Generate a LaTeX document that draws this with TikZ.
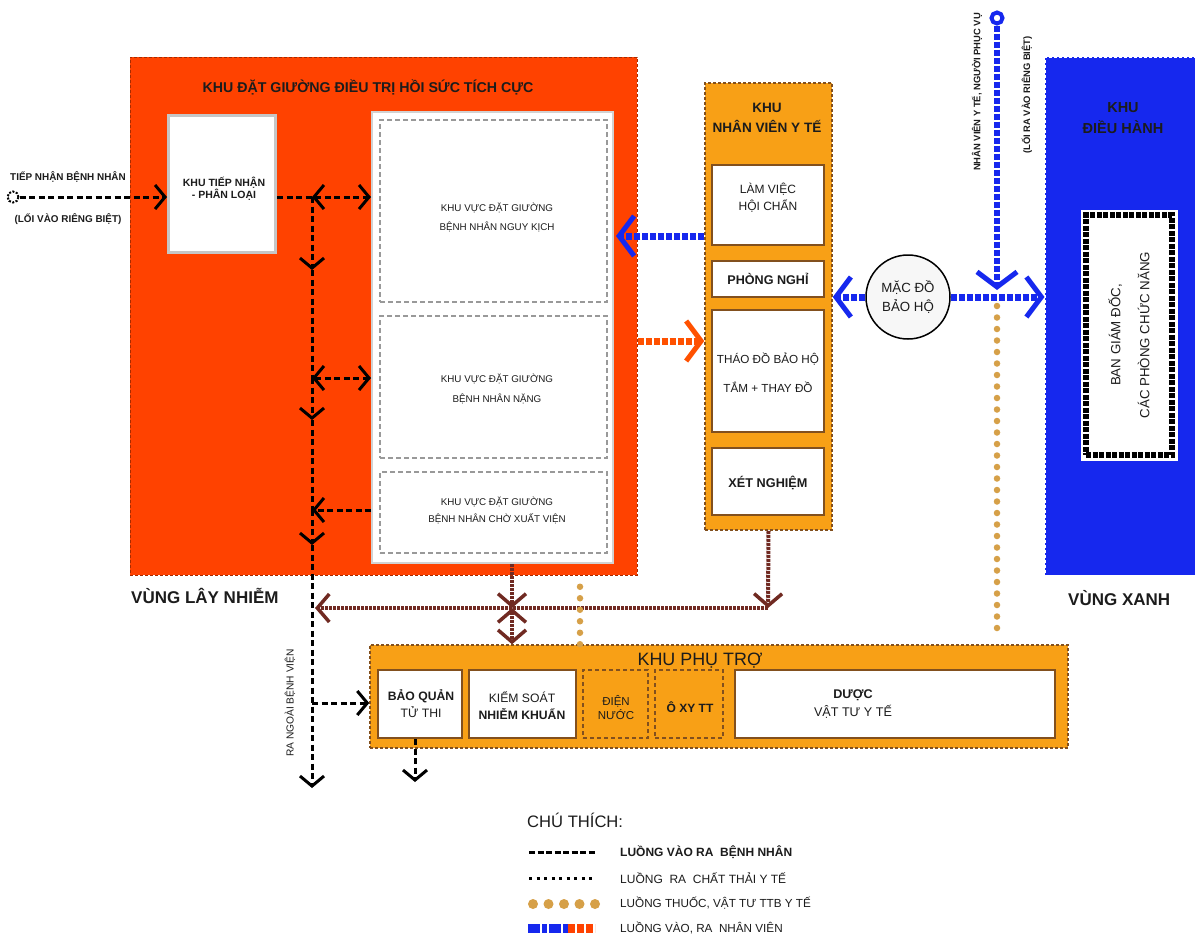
\documentclass[tikz,border=0pt]{standalone}
\usepackage{fontspec}
\setmainfont{Liberation Sans}
\newfontfamily\cond{Liberation Sans}
\usetikzlibrary{arrows.meta,calc}
\definecolor{redz}{RGB}{255,66,0}
\definecolor{orz}{RGB}{248,160,22}
\definecolor{bluez}{RGB}{22,40,238}
\definecolor{brownz}{RGB}{112,42,34}
\definecolor{goldz}{RGB}{214,160,72}
\definecolor{txt}{RGB}{28,28,28}
\definecolor{edge}{RGB}{130,80,30}
\newcommand\fz[2]{\fontsize{#1}{#2}\selectfont}
\tikzset{
  chevK/.tip={Straight Barb[length=10pt,width=24pt,line width=3pt]},
  chevB/.tip={Straight Barb[length=15pt,width=40pt,line width=5pt]},
  chevN/.tip={Straight Barb[length=12pt,width=28pt,line width=3.5pt]},
  chevG/.tip={Straight Barb[length=9pt,width=30pt,line width=5pt,color=black]},
  t/.style={font=\cond\fz{9.8}{12}, text=txt, align=center, inner sep=0pt},
  tb/.style={font=\cond\bfseries\fz{10.5}{12}, text=txt, align=center, inner sep=0pt},
  zone/.style={rectangle, inner sep=0pt, line width=1pt, dash pattern=on 3pt off 2pt},
  room/.style={rectangle, inner sep=0pt, fill=white, draw=edge, line width=2pt},
  subz/.style={rectangle, inner sep=0pt, draw=gray!80, line width=1.2pt, dash pattern=on 5pt off 3pt, fill=white},
  pat/.style={draw=black, line width=3pt, dash pattern=on 6pt off 3.5pt},
  patA/.style={pat, -chevK},
  patAA/.style={pat, chevK-chevK},
  brn/.style={draw=brownz, line width=4pt, dash pattern=on 3pt off 1pt},
  brnA/.style={brn, -chevN},
  brnAA/.style={brn, chevN-chevN},
  gld/.style={draw=goldz, line width=6.5pt, dash pattern=on 0pt off 11.5pt, line cap=round},
  stf/.style={line width=7pt, dash pattern=on 6pt off 2pt, -chevB},
}
\begin{document}
\begin{tikzpicture}[x=1pt,y=-1pt]
\useasboundingbox (0,0) rectangle (1195,938);
\fill[white] (0,0) rectangle (1195,938);

% ---------- red zone ----------
\node[zone, fill=redz, draw=redz!65!black, minimum width=507, minimum height=518] (red) at (383.5,316) {};
\node[font=\cond\bfseries\fz{14.2}{16}, text=txt, inner sep=0pt] (redt) at (368,87) {KHU ĐẶT GIƯỜNG ĐIỀU TRỊ HỒI SỨC TÍCH CỰC};
\node[rectangle, inner sep=0pt, fill=white, draw=gray!45, line width=3pt, minimum width=107, minimum height=137] (tn) at (222,184) {};
\node[tb] (tnt) at (224,189) {KHU TIẾP NHẬN\\- PHÂN LOẠI};
\node[rectangle, inner sep=0pt, fill=white, draw=gray!35, line width=2pt, minimum width=241, minimum height=451] (bigw) at (492.5,337.5) {};
\node[subz, minimum width=227, minimum height=182] (b1) at (493.5,211) {};
\node[subz, minimum width=227, minimum height=142] (b2) at (493.5,387) {};
\node[subz, minimum width=227, minimum height=81] (b3) at (493.5,512.5) {};
\node[t, font=\cond\fz{9.8}{19}] (b1t) at (497,217) {KHU VỰC ĐẶT GIƯỜNG\\BỆNH NHÂN NGUY KỊCH};
\node[t, font=\cond\fz{9.8}{20}] (b2t) at (497,389) {KHU VỰC ĐẶT GIƯỜNG\\BỆNH NHÂN NẶNG};
\node[t, font=\cond\fz{9.8}{17}] (b3t) at (497,510) {KHU VỰC ĐẶT GIƯỜNG\\BỆNH NHÂN CHỜ XUẤT VIỆN};
\node[font=\cond\bfseries\fz{17}{19}, text=txt, anchor=west, inner sep=0pt] (vln) at (131,596) {VÙNG LÂY NHIỄM};

% ---------- staff zone ----------
\node[zone, fill=orz, draw=edge, line width=1.5pt, minimum width=127, minimum height=447] (staff) at (768.5,306.5) {};
\node[font=\cond\bfseries\fz{13.6}{20}, text=txt, align=center, inner sep=0pt] (stt) at (767,118) {KHU\\NHÂN VIÊN Y TẾ};
\node[room, minimum width=112, minimum height=80] (s1) at (768,205) {};
\node[t, font=\cond\fz{12}{17}] (s1t) at (768,198) {LÀM VIỆC\\HỘI CHẨN};
\node[room, minimum width=112, minimum height=36] (s2) at (768,279) {};
\node[tb, font=\cond\bfseries\fz{12.6}{14}] (s2t) at (768,279) {PHÒNG NGHỈ};
\node[room, minimum width=112, minimum height=122] (s3) at (768,371) {};
\node[t, font=\cond\fz{11.7}{29}] (s3t) at (768,372.5) {THÁO ĐỒ BẢO HỘ\\TẮM + THAY ĐỒ};
\node[room, minimum width=112, minimum height=67] (s4) at (768,481.5) {};
\node[tb, font=\cond\bfseries\fz{12.7}{14}] (s4t) at (768,483) {XÉT NGHIỆM};

% ---------- gowning circle ----------
\node[circle, draw=black, line width=1.5pt, fill=gray!6, minimum size=84, inner sep=0pt, font=\cond\fz{13.3}{19}, text=txt, align=center] (mac) at (908,297) {MẶC ĐỒ\\BẢO HỘ};
\node[circle, draw=bluez, line width=4pt, fill=white, minimum size=11, inner sep=0pt] (topc) at (997,18) {};
\node[rotate=90, font=\cond\bfseries\fz{9.4}{10}, text=txt, inner sep=0pt] (vt1) at (977,92) {NHÂN VIÊN Y TẾ, NGƯỜI PHỤC VỤ};
\node[rotate=90, font=\cond\bfseries\fz{9.4}{10}, text=txt, inner sep=0pt] (vt2) at (1027,95) {(LỐI RA VÀO RIÊNG BIỆT)};

% ---------- blue zone ----------
\node[zone, fill=bluez, draw=white, minimum width=152, minimum height=518] (blue) at (1121,316) {};
\node[font=\cond\bfseries\fz{14.5}{21}, text=txt, align=center, inner sep=0pt] (blt) at (1123,118) {KHU\\ĐIỀU HÀNH};
\node[rectangle, inner sep=0pt, fill=white, draw=black, line width=6pt, dash pattern=on 5pt off 1.5pt,
      preaction={draw=white, line width=11pt, solid}, minimum width=86, minimum height=240] (ban) at (1129,335) {};
\node[rotate=90, font=\cond\fz{13.3}{29}, text=txt, align=center, inner sep=0pt] (bant) at (1129,335) {BAN GIÁM ĐỐC,\\CÁC PHÒNG CHỨC NĂNG};
\node[font=\cond\bfseries\fz{17}{19}, text=txt, anchor=west, inner sep=0pt] (vx) at (1068,598) {VÙNG XANH};

% ---------- support zone ----------
\node[zone, fill=orz, draw=edge, line width=1.5pt, minimum width=698, minimum height=103] (pt) at (719,696.5) {};
\node[font=\cond\fz{17.9}{20}, text=txt, inner sep=0pt] (ptt) at (700,661) {KHU PHỤ TRỢ};
\node[room, minimum width=84, minimum height=68] (p1) at (420,704) {};
\node[t, font=\cond\fz{12.2}{17}] (p1t) at (421,703.5) {\bfseries BẢO QUẢN\\TỬ THI};
\node[room, minimum width=107, minimum height=68] (p2) at (522.5,704) {};
\node[t, font=\cond\fz{12.2}{17}] (p2t) at (522,706) {KIỂM SOÁT\\\bfseries NHIỄM KHUẨN};
\node[rectangle, inner sep=0pt, draw=edge, line width=1.3pt, dash pattern=on 4pt off 3pt, minimum width=65, minimum height=68] (p3) at (615.5,704) {};
\node[t, font=\cond\fz{11.5}{14}] (p3t) at (616,708) {ĐIỆN\\NƯỚC};
\node[rectangle, inner sep=0pt, draw=edge, line width=1.3pt, dash pattern=on 4pt off 3pt, minimum width=68, minimum height=68] (p4) at (689,704) {};
\node[tb, font=\cond\bfseries\fz{12}{14}] (p4t) at (690,707) {Ô XY TT};
\node[room, minimum width=320, minimum height=68] (p5) at (895,704) {};
\node[t, font=\cond\fz{12.6}{18}] (p5t) at (853,704) {\bfseries DƯỢC\\VẬT TƯ Y TẾ};

% ---------- entrance ----------
\node[tb, font=\cond\bfseries\fz{9.9}{11}] (entt1) at (68,177) {TIẾP NHẬN BỆNH NHÂN};
\node[tb, font=\cond\bfseries\fz{9.9}{11}] (entt2) at (68,219) {(LỐI VÀO RIÊNG BIỆT)};
\node[circle, draw=black, line width=2pt, dash pattern=on 2pt off 1.5pt, fill=white, minimum size=11, inner sep=0pt] (ent) at (13,197) {};
\node[rotate=90, font=\cond\fz{10.2}{11}, text=txt, inner sep=0pt] (ra) at (290,703) {RA NGOÀI BỆNH VIỆN};

% ---------- coordinates ----------
\coordinate (j1) at (312,197);
\coordinate (a1) at (312,270);
\coordinate (j2) at (312,378);
\coordinate (a2) at (312,420);
\coordinate (j3) at (312,510);
\coordinate (a3) at (312,545);
\coordinate (jp) at (312,703);
\coordinate (lend) at (312,788);
\coordinate (w1) at (415,782);
\coordinate (k1) at (768,608);
\coordinate (k2) at (512,608);
\coordinate (kend) at (315,608);
\coordinate (g1) at (580,575);
\coordinate (gj) at (997,297);
\coordinate (gjt) at (997,290);
\coordinate (bt) at (616,236);
\coordinate (rr) at (637,341);

% ---------- patient flow ----------
\draw[patA] (ent) -- (tn.west |- ent);
\draw[pat] (tn.east |- j1) -- (j1);
\draw[patAA] (j1) -- (bigw.west |- j1);
\draw[patA] (j1) -- (a1);
\draw[pat] (a1) -- (j2);
\draw[patAA] (j2) -- (bigw.west |- j2);
\draw[patA] (j2) -- (a2);
\draw[pat] (a2) -- (j3);
\draw[patA] (bigw.west |- j3) -- (j3);
\draw[patA] (j3) -- (a3);
\draw[patA] (a3) -- (lend);
\draw[patA] (jp) -- (pt.west |- jp);
\draw[patA] (p1.south -| w1) -- (w1);

% ---------- waste flow ----------
\draw[brnA] (staff.south) -- (k1);
\draw[brnA] (k1) -- (kend);
\draw[brnA] (bigw.south -| k2) -- (k2);
\draw[brnAA] (k2) -- (pt.north -| k2);

% ---------- supplies ----------
\draw[gld] (pt.north -| g1) -- ($(g1)+(0,6)$);
\draw[draw=none, -chevG, line width=5pt] ($(g1)+(0,14)$) -- (red.south -| g1);
\draw[gld] ($(gj)+(0,9)$) -- ($(pt.north -| gj)+(0,-14)$);
\draw[draw=none, -chevG, line width=5pt] ($(pt.north -| gj)+(0,-14)$) -- (pt.north -| gj);

% ---------- staff flow ----------
\draw[stf, draw=bluez] (staff.west |- bt) -- (bt);
\draw[stf, draw=bluez] (mac.west) -- (staff.east |- mac);
\draw[stf, draw=bluez, line width=6pt] (topc.south) -- (gjt);
\draw[stf, draw=bluez] (mac.east) -- (blue.west |- mac);
\draw[stf, draw=redz!92!yellow] (red.east |- rr) -- (staff.west |- rr);

% ---------- legend ----------
\node[font=\cond\fz{16.6}{18}, text=txt, anchor=west, inner sep=0pt] (leg) at (527,820) {CHÚ THÍCH:};
\coordinate (l1a) at (529,852); \coordinate (l1b) at (595,852);
\coordinate (l2a) at (529,878); \coordinate (l2b) at (595,878);
\coordinate (l3a) at (533,904); \coordinate (l3b) at (595,904);
\coordinate (l4a) at (528,928); \coordinate (l4m) at (568,928); \coordinate (l4b) at (595,928);
\draw[draw=black, line width=3pt, dash pattern=on 6pt off 2.5pt] (l1a) -- (l1b);
\draw[draw=black, line width=3pt, dash pattern=on 3pt off 4.5pt] (l2a) -- (l2b);
\draw[gld, line width=10pt, dash pattern=on 0pt off 15.5pt] (l3a) -- (l3b);
\draw[draw=bluez, line width=9pt, dash pattern=on 12pt off 2pt on 5pt off 2pt] (l4a) -- (l4m);
\draw[draw=redz, line width=9pt, dash pattern=on 7pt off 2pt] (l4m) -- (l4b);
\node[font=\cond\bfseries\fz{12}{14}, text=txt, anchor=west, inner sep=0pt] (lt1) at (620,852) {LUỒNG VÀO RA \ BỆNH NHÂN};
\node[font=\cond\fz{12}{14}, text=txt, anchor=west, inner sep=0pt] (lt2) at (620,878) {LUỒNG \ RA \ CHẤT THẢI Y TẾ};
\node[font=\cond\fz{11.7}{14}, text=txt, anchor=west, inner sep=0pt] (lt3) at (620,903) {LUỒNG THUỐC, VẬT TƯ TTB Y TẾ};
\node[font=\cond\fz{11.7}{14}, text=txt, anchor=west, inner sep=0pt] (lt4) at (620,928) {LUỒNG VÀO, RA \ NHÂN VIÊN};
\end{tikzpicture}
\end{document}
